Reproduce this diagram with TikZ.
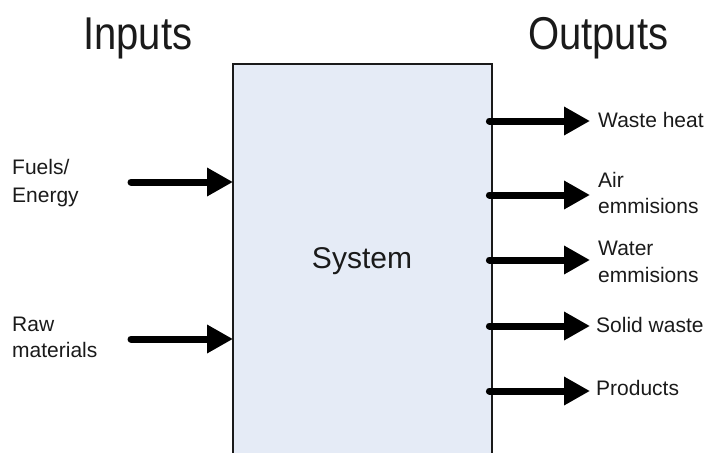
\documentclass[tikz,border=0pt]{standalone}
\usepackage{fontspec}
\setmainfont{Liberation Sans}
\usetikzlibrary{arrows.meta}
\definecolor{sysfill}{HTML}{E5EBF6}
\definecolor{ink}{HTML}{1A1A1A}
\tikzset{
  flow/.style={line width=7pt, line cap=round, -{Triangle[length=26pt,width=27pt]}},
  label/.style={anchor=base west, inner sep=0pt, text=ink, font=\fontsize{21}{25}\selectfont},
  heading/.style={anchor=base west, inner sep=0pt, text=ink, xscale=0.87, font=\fontsize{46}{52}\selectfont},
}
\begin{document}
\begin{tikzpicture}[x=1pt,y=-1pt]
  \useasboundingbox (0,0) rectangle (714,452);
  \clip (0,0) rectangle (714,452);

  % headings
  \node[heading] (inputs) at (83,50) {Inputs};
  \node[heading] (outputs) at (528,50) {Outputs};

  % system box, open at the bottom
  \node[draw=none, fill=sysfill, anchor=north west, minimum width=259pt,
        minimum height=420pt, inner sep=0pt] (sys) at (233,64) {};
  \draw[line width=2pt, draw=ink] (sys.south west) -- (sys.north west)
        -- (sys.north east) -- (sys.south east);
  \node[text=ink, font=\fontsize{30}{36}\selectfont, anchor=base] (systxt) at (362,268) {System};

  % inputs
  \node[label] (fuelsA) at (12,174) {Fuels/};
  \node[label] (fuelsB) at (12,202) {Energy};
  \node[label] (rawA) at (12,331) {Raw};
  \node[label] (rawB) at (12,357) {materials};
  \coordinate (fin) at (131,182);
  \coordinate (rin) at (131,339);
  \draw[flow] (fin) -- (fin -| sys.west);
  \draw[flow] (rin) -- (rin -| sys.west);

  % outputs
  \coordinate (o1) at (590,121);
  \coordinate (o2) at (590,195);
  \coordinate (o3) at (590,260);
  \coordinate (o4) at (590,326);
  \coordinate (o5) at (590,391);
  \foreach \o in {o1,o2,o3,o4,o5}
    \draw[flow] ([xshift=-3pt]\o -| sys.east) -- (\o);

  \node[label] (wheat) at (598,127) {Waste heat};
  \node[label] (airA) at (598,187) {Air};
  \node[label] (airB) at (598,213) {emmisions};
  \node[label] (watA) at (598,255) {Water};
  \node[label] (watB) at (598,282) {emmisions};
  \node[label] (solid) at (596,332) {Solid waste};
  \node[label] (prod) at (596,395) {Products};
\end{tikzpicture}
\end{document}
